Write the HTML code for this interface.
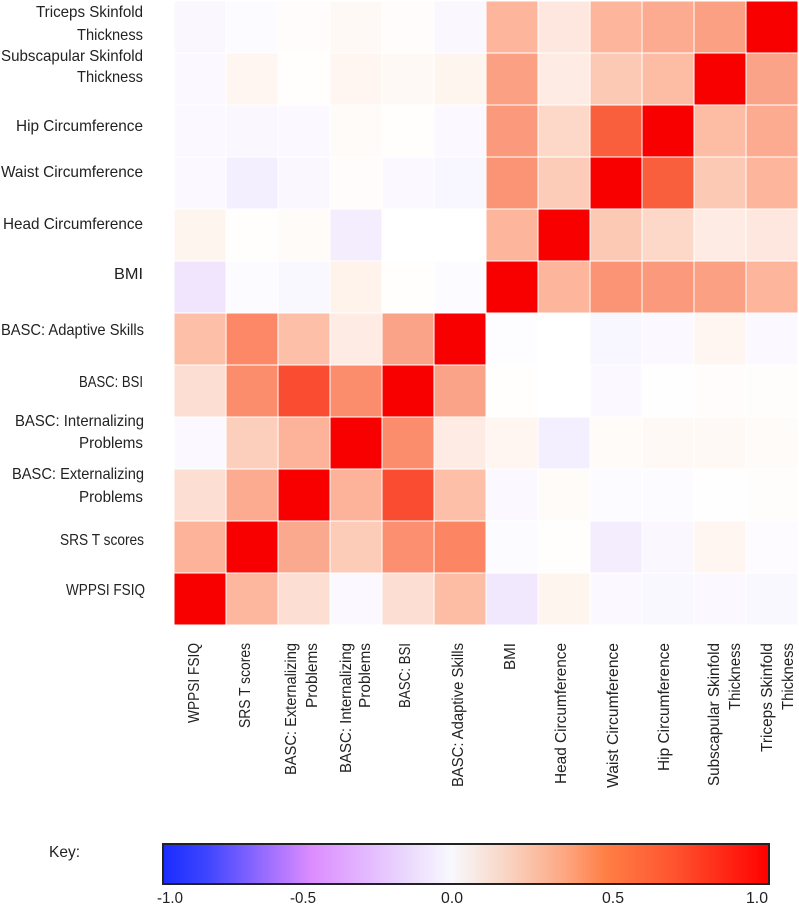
<!DOCTYPE html>
<html lang="en">
<head>
<meta charset="utf-8">
<title>Correlation heatmap</title>
<style>
  html, body { margin: 0; padding: 0; background: #fff; }
  svg { display: block; }
  text { font-family: "Liberation Sans", sans-serif; font-size: 16px; fill: #222; }
</style>
</head>
<body>
<svg id="chart" xmlns="http://www.w3.org/2000/svg" width="799" height="908" viewBox="0 0 799 908">
  <defs>
    <linearGradient id="key-gradient" x1="0" x2="1" y1="0" y2="0">
      <stop offset="0" stop-color="#1a2cff"/>
      <stop offset="0.07" stop-color="#3c44ff"/>
      <stop offset="0.17" stop-color="#9a6dff"/>
      <stop offset="0.245" stop-color="#dc8cff"/>
      <stop offset="0.33" stop-color="#e3b6ff"/>
      <stop offset="0.41" stop-color="#ecdcfd"/>
      <stop offset="0.476" stop-color="#f8f8fe"/>
      <stop offset="0.56" stop-color="#f8d8c8"/>
      <stop offset="0.66" stop-color="#fda884"/>
      <stop offset="0.73" stop-color="#ff7f45"/>
      <stop offset="0.84" stop-color="#ff5530"/>
      <stop offset="1" stop-color="#ff0000"/>
    </linearGradient>
  </defs>
  <g id="cells"></g>

  <g text-anchor="end">
    <text x="143" y="17" textLength="107" lengthAdjust="spacingAndGlyphs">Triceps Skinfold</text>
    <text x="143" y="40" textLength="66" lengthAdjust="spacingAndGlyphs">Thickness</text>
    <text x="143" y="61" textLength="142" lengthAdjust="spacingAndGlyphs">Subscapular Skinfold</text>
    <text x="143" y="82" textLength="66" lengthAdjust="spacingAndGlyphs">Thickness</text>
    <text x="143" y="131" textLength="127" lengthAdjust="spacingAndGlyphs">Hip Circumference</text>
    <text x="143" y="177" textLength="142" lengthAdjust="spacingAndGlyphs">Waist Circumference</text>
    <text x="143" y="229" textLength="140" lengthAdjust="spacingAndGlyphs">Head Circumference</text>
    <text x="143" y="279" textLength="29" lengthAdjust="spacingAndGlyphs">BMI</text>
    <text x="144" y="335" textLength="143" lengthAdjust="spacingAndGlyphs">BASC: Adaptive Skills</text>
    <text x="143" y="387" textLength="64" lengthAdjust="spacingAndGlyphs">BASC: BSI</text>
    <text x="144" y="426" textLength="129" lengthAdjust="spacingAndGlyphs">BASC: Internalizing</text>
    <text x="143" y="448" textLength="64" lengthAdjust="spacingAndGlyphs">Problems</text>
    <text x="144" y="479" textLength="132" lengthAdjust="spacingAndGlyphs">BASC: Externalizing</text>
    <text x="143" y="502" textLength="64" lengthAdjust="spacingAndGlyphs">Problems</text>
    <text x="144" y="545" textLength="84" lengthAdjust="spacingAndGlyphs">SRS T scores</text>
    <text x="145" y="595" textLength="79" lengthAdjust="spacingAndGlyphs">WPPSI FSIQ</text>
  </g>

  <g text-anchor="end">
    <text transform="translate(199 643) rotate(-90)" textLength="80" lengthAdjust="spacingAndGlyphs">WPPSI FSIQ</text>
    <text transform="translate(250 643) rotate(-90)" textLength="85" lengthAdjust="spacingAndGlyphs">SRS T scores</text>
    <text transform="translate(296 643) rotate(-90)" textLength="132" lengthAdjust="spacingAndGlyphs">BASC: Externalizing</text>
    <text transform="translate(317 643) rotate(-90)" textLength="65" lengthAdjust="spacingAndGlyphs">Problems</text>
    <text transform="translate(351 643) rotate(-90)" textLength="130" lengthAdjust="spacingAndGlyphs">BASC: Internalizing</text>
    <text transform="translate(370 643) rotate(-90)" textLength="65" lengthAdjust="spacingAndGlyphs">Problems</text>
    <text transform="translate(410 643) rotate(-90)" textLength="65" lengthAdjust="spacingAndGlyphs">BASC: BSI</text>
    <text transform="translate(463 643) rotate(-90)" textLength="144" lengthAdjust="spacingAndGlyphs">BASC: Adaptive Skills</text>
    <text transform="translate(515 643) rotate(-90)" textLength="27" lengthAdjust="spacingAndGlyphs">BMI</text>
    <text transform="translate(566 643) rotate(-90)" textLength="141" lengthAdjust="spacingAndGlyphs">Head Circumference</text>
    <text transform="translate(618 643) rotate(-90)" textLength="145" lengthAdjust="spacingAndGlyphs">Waist Circumference</text>
    <text transform="translate(669 643) rotate(-90)" textLength="128" lengthAdjust="spacingAndGlyphs">Hip Circumference</text>
    <text transform="translate(719 643) rotate(-90)" textLength="143" lengthAdjust="spacingAndGlyphs">Subscapular Skinfold</text>
    <text transform="translate(740 643) rotate(-90)" textLength="67" lengthAdjust="spacingAndGlyphs">Thickness</text>
    <text transform="translate(772 643) rotate(-90)" textLength="109" lengthAdjust="spacingAndGlyphs">Triceps Skinfold</text>
    <text transform="translate(793 643) rotate(-90)" textLength="67" lengthAdjust="spacingAndGlyphs">Thickness</text>
  </g>

  <g>
    <text x="49" y="857" textLength="31" lengthAdjust="spacingAndGlyphs">Key:</text>
    <rect x="163" y="844" width="606" height="40" fill="url(#key-gradient)" stroke="#222" stroke-width="2"/>
    <g text-anchor="middle">
      <text x="170" y="903" textLength="26" lengthAdjust="spacingAndGlyphs">-1.0</text>
      <text x="303" y="903" textLength="26" lengthAdjust="spacingAndGlyphs">-0.5</text>
      <text x="452" y="903" textLength="22" lengthAdjust="spacingAndGlyphs">0.0</text>
      <text x="613" y="903" textLength="22" lengthAdjust="spacingAndGlyphs">0.5</text>
      <text x="757" y="903" textLength="22" lengthAdjust="spacingAndGlyphs">1.0</text>
    </g>
  </g>
</svg>

<script>
// Column categories (left to right) and row categories (top to bottom)
var columnCategories = ["WPPSI FSIQ", "SRS T scores", "BASC: Externalizing Problems", "BASC: Internalizing Problems", "BASC: BSI", "BASC: Adaptive Skills", "BMI", "Head Circumference", "Waist Circumference", "Hip Circumference", "Subscapular Skinfold Thickness", "Triceps Skinfold Thickness"];
var rowCategories = ["Triceps Skinfold Thickness", "Subscapular Skinfold Thickness", "Hip Circumference", "Waist Circumference", "Head Circumference", "BMI", "BASC: Adaptive Skills", "BASC: BSI", "BASC: Internalizing Problems", "BASC: Externalizing Problems", "SRS T scores", "WPPSI FSIQ"];

// Correlation values, one array per row
var tricepsValues = [-0.03, -0.015, 0.01, 0.02, 0.01, -0.03, 0.27, 0.1, 0.27, 0.32, 0.38, 1];
var subscapularValues = [-0.02, 0.03, 0.005, 0.03, 0.02, 0.035, 0.38, 0.08, 0.2, 0.24, 1, 0.36];
var hipValues = [-0.02, -0.03, -0.02, 0.015, 0.005, -0.02, 0.42, 0.15, 0.75, 1, 0.24, 0.32];
var waistValues = [-0.02, -0.07, -0.03, 0.01, -0.02, -0.04, 0.45, 0.19, 1, 0.75, 0.2, 0.27];
var headValues = [0.035, 0.005, 0.015, -0.08, 0, 0, 0.27, 1, 0.2, 0.15, 0.08, 0.1];
var bmiValues = [-0.11, -0.015, -0.025, 0.04, 0.005, -0.015, 1, 0.27, 0.45, 0.42, 0.38, 0.27];
var adaptiveValues = [0.23, 0.5, 0.23, 0.08, 0.36, 1, -0.01, 0, -0.04, -0.02, 0.03, -0.02];
var bsiValues = [0.13, 0.48, 0.8, 0.48, 1, 0.36, 0.005, 0, -0.02, 0.003, 0.01, 0.007];
var internalizingValues = [-0.02, 0.18, 0.28, 1, 0.48, 0.08, 0.03, -0.07, 0.015, 0.02, 0.02, 0.015];
var externalizingValues = [0.13, 0.32, 1, 0.28, 0.8, 0.23, -0.02, 0.015, -0.015, -0.015, 0.003, 0.007];
var srsValues = [0.28, 1, 0.33, 0.19, 0.47, 0.52, -0.015, 0.005, -0.08, -0.03, 0.03, -0.012];
var wppsiValues = [1, 0.26, 0.13, -0.02, 0.13, 0.24, -0.1, 0.035, -0.02, -0.025, -0.02, -0.025];

var matrix = [tricepsValues, subscapularValues, hipValues, waistValues, headValues, bmiValues, adaptiveValues, bsiValues, internalizingValues, externalizingValues, srsValues, wppsiValues];

// Axis functions
function xScale(col) { return 174 + col * 52; }
function yScale(row) { return 1 + row * 52; }

// Colour scale
function hexToRgb(h) {
  return [parseInt(h.slice(1, 3), 16), parseInt(h.slice(3, 5), 16), parseInt(h.slice(5, 7), 16)];
}
function colorFor(v) {
  var ramp = [
    [-1, "#1a2cff"], [-0.5, "#dc8cff"], [-0.11, "#f1e5fd"], [-0.06, "#f5f2fe"], [-0.02, "#fbf9ff"],
    [0, "#ffffff"], [0.02, "#fff9f6"], [0.04, "#fff3ec"], [0.1, "#fee7df"], [0.15, "#fdd8c9"],
    [0.2, "#fcc9b4"], [0.25, "#fdb9a0"], [0.35, "#fba58a"], [0.45, "#fa9474"], [0.5, "#fc8868"],
    [0.75, "#f95f3c"], [1, "#f80000"]
  ];
  for (var i = 1; i < ramp.length; i++) {
    if (v <= ramp[i][0]) {
      var t = (v - ramp[i - 1][0]) / (ramp[i][0] - ramp[i - 1][0]);
      var a = hexToRgb(ramp[i - 1][1]);
      var b = hexToRgb(ramp[i][1]);
      return "rgb(" + Math.round(a[0] + (b[0] - a[0]) * t) + "," + Math.round(a[1] + (b[1] - a[1]) * t) + "," + Math.round(a[2] + (b[2] - a[2]) * t) + ")";
    }
  }
  return ramp[ramp.length - 1][1];
}

var cellGroup = document.getElementById("cells");
matrix.forEach(function (rowValues, r) {
  rowValues.forEach(function (value, c) {
    var el = document.createElementNS("http://www.w3.org/2000/svg", "rect");
    
    
    el.setAttribute("x", xScale(c) + 0.5);
    el.setAttribute("y", yScale(r) + 0.5);
    el.setAttribute("width", xScale(c + 1) - xScale(c) - 1);
    el.setAttribute("height", yScale(r + 1) - yScale(r) - 1);
    el.setAttribute("fill", colorFor(value));
    var tip = document.createElementNS("http://www.w3.org/2000/svg", "title");
    tip.textContent = rowCategories[r] + " / " + columnCategories[c] + ": " + value;
    el.appendChild(tip);
    cellGroup.appendChild(el);
  });
});
</script>
</body>
</html>
